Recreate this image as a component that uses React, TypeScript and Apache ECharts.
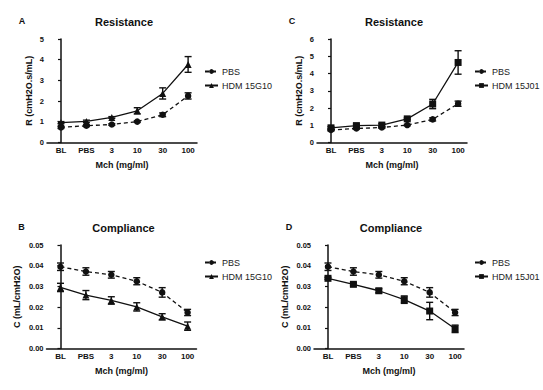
import React, { useEffect, useRef } from "react";
import * as echarts from "echarts";

const categories = ["BL", "PBS", "3", "10", "30", "100"];

const resPBS = [0.73, 0.81, 0.87, 1.01, 1.34, 2.25];
const resPBSErr = [0.05, 0.04, 0.04, 0.04, 0.09, 0.15];
const resHDM15G10 = [0.96, 1.02, 1.21, 1.53, 2.37, 3.77];
const resHDM15G10Err = [0.05, 0.06, 0.04, 0.15, 0.27, 0.38];
const resHDM15J01 = [0.85, 0.98, 1.01, 1.37, 2.23, 4.64];
const resHDM15J01Err = [0.07, 0.08, 0.08, 0.05, 0.27, 0.68];

const compPBS = [0.0395, 0.0372, 0.0356, 0.0325, 0.0271, 0.0174];
const compPBSErr = [0.0018, 0.0018, 0.0016, 0.0017, 0.0023, 0.0015];
const compHDM15G10 = [0.0295, 0.0258, 0.0232, 0.0201, 0.0153, 0.0108];
const compHDM15G10Err = [0.002, 0.0022, 0.0018, 0.002, 0.0015, 0.002];
const compHDM15J01 = [0.0339, 0.031, 0.0279, 0.0236, 0.0181, 0.0095];
const compHDM15J01Err = [0.0005, 0.0007, 0.001, 0.0018, 0.0042, 0.0018];

const FONT = "'Liberation Sans', Arial, sans-serif";
const BLACK = "#111";

type Panel = {
  letter: string;
  title: string;
  left: number;
  top: number;
  yMax: number;
  yInterval: number;
  yName: string;
  yNameGap: number;
  decimals: number;
  hdmName: string;
  hdmSymbol: string;
  hdmSymbolSize: number;
  pbs: number[];
  pbsErr: number[];
  hdm: number[];
  hdmErr: number[];
  legendLeft: number;
  legendTop: number;
};

const panels: Panel[] = [
  {
    letter: "A", title: "Resistance", left: 47, top: 39, yMax: 5, yInterval: 1,
    yName: "R (cmH2O.s/mL)", yNameGap: 14, decimals: 0,
    hdmName: "HDM 15G10", hdmSymbol: "triangle", hdmSymbolSize: 7,
    pbs: resPBS, pbsErr: resPBSErr, hdm: resHDM15G10, hdmErr: resHDM15G10Err,
    legendLeft: 204, legendTop: 67,
  },
  {
    letter: "C", title: "Resistance", left: 317, top: 39, yMax: 6, yInterval: 1,
    yName: "R (cmH2O.s/mL)", yNameGap: 14, decimals: 0,
    hdmName: "HDM 15J01", hdmSymbol: "rect", hdmSymbolSize: 7,
    pbs: resPBS, pbsErr: resPBSErr, hdm: resHDM15J01, hdmErr: resHDM15J01Err,
    legendLeft: 474, legendTop: 67,
  },
  {
    letter: "B", title: "Compliance", left: 46.5, top: 245, yMax: 0.05, yInterval: 0.01,
    yName: "C (mL/cmH2O)", yNameGap: 25, decimals: 2,
    hdmName: "HDM 15G10", hdmSymbol: "triangle", hdmSymbolSize: 7,
    pbs: compPBS, pbsErr: compPBSErr, hdm: compHDM15G10, hdmErr: compHDM15G10Err,
    legendLeft: 204, legendTop: 258,
  },
  {
    letter: "D", title: "Compliance", left: 314, top: 245, yMax: 0.05, yInterval: 0.01,
    yName: "C (mL/cmH2O)", yNameGap: 25, decimals: 2,
    hdmName: "HDM 15J01", hdmSymbol: "rect", hdmSymbolSize: 7,
    pbs: compPBS, pbsErr: compPBSErr, hdm: compHDM15J01, hdmErr: compHDM15J01Err,
    legendLeft: 474, legendTop: 258,
  },
];

function errorRender(params: any, api: any) {
  const x = api.value(0);
  const v = api.value(1);
  const e = api.value(2);
  const top = api.coord([x, v + e]);
  const bot = api.coord([x, v - e]);
  const w = 3.5;
  const style = { stroke: BLACK, lineWidth: 1.4 };
  return {
    type: "group",
    children: [
      { type: "line", shape: { x1: top[0], y1: top[1], x2: bot[0], y2: bot[1] }, style },
      { type: "line", shape: { x1: top[0] - w, y1: top[1], x2: top[0] + w, y2: top[1] }, style },
      { type: "line", shape: { x1: bot[0] - w, y1: bot[1], x2: bot[0] + w, y2: bot[1] }, style },
    ],
  };
}

export default function App() {
  const ref = useRef<HTMLDivElement>(null);
  useEffect(() => {
    if (!ref.current) return;
    const chart = echarts.init(ref.current, null, { renderer: "svg" });

    const grids: any[] = [];
    const xAxes: any[] = [];
    const yAxes: any[] = [];
    const series: any[] = [];
    const legends: any[] = [];
    const graphics: any[] = [];

    panels.forEach((p, i) => {
      grids.push({ left: p.left, top: p.top, width: 150, height: 103.5, containLabel: false });
      xAxes.push({
        type: "value",
        gridIndex: i,
        min: -0.55,
        max: 5.35,
        name: "Mch (mg/ml)",
        nameLocation: "middle",
        nameGap: 18,
        nameTextStyle: { fontFamily: FONT, fontSize: 9, fontWeight: "bold", color: BLACK },
        splitLine: { show: false },
        axisLine: { show: true, lineStyle: { color: BLACK, width: 1.5 } },
        axisTick: { show: false, customValues: [0, 1, 2, 3, 4, 5] },
        axisLabel: {
          customValues: [0, 1, 2, 3, 4, 5],
          formatter: (v: number) => categories[Math.round(v)] ?? "",
          fontFamily: FONT, fontSize: 8, fontWeight: "bold", color: BLACK, margin: 4,
        },
      });
      yAxes.push({
        type: "value",
        gridIndex: i,
        min: 0,
        max: p.yMax,
        interval: p.yInterval,
        name: p.yName,
        nameLocation: "middle",
        nameGap: p.yNameGap,
        nameTextStyle: { fontFamily: FONT, fontSize: 9, fontWeight: "bold", color: BLACK },
        splitLine: { show: false },
        axisLine: { show: true, lineStyle: { color: BLACK, width: 1.5 } },
        axisTick: { show: true, length: 3, lineStyle: { color: BLACK, width: 1.2 } },
        axisLabel: {
          formatter: (v: number) => v.toFixed(p.decimals),
          fontFamily: FONT, fontSize: 7.5, fontWeight: "bold", color: BLACK, margin: 3,
        },
      });
      series.push({
        type: "line",
        name: "PBS",
        xAxisIndex: i,
        yAxisIndex: i,
        data: p.pbs.map((v, k) => [k, v]),
        symbol: "circle",
        symbolSize: 6.5,
        itemStyle: { color: BLACK },
        lineStyle: { color: BLACK, width: 1.3, type: [4, 3] },
        z: 3,
      });
      series.push({
        type: "line",
        name: p.hdmName,
        xAxisIndex: i,
        yAxisIndex: i,
        data: p.hdm.map((v, k) => [k, v]),
        symbol: p.hdmSymbol,
        symbolSize: p.hdmSymbolSize,
        itemStyle: { color: BLACK },
        lineStyle: { color: BLACK, width: 1.3, type: "solid" },
        z: 3,
      });
      series.push({
        type: "custom",
        xAxisIndex: i,
        yAxisIndex: i,
        data: p.pbs.map((v, k) => [k, v, p.pbsErr[k]]),
        encode: { x: 0, y: 1 },
        renderItem: errorRender,
        z: 4,
        silent: true,
      });
      series.push({
        type: "custom",
        xAxisIndex: i,
        yAxisIndex: i,
        data: p.hdm.map((v, k) => [k, v, p.hdmErr[k]]),
        encode: { x: 0, y: 1 },
        renderItem: errorRender,
        z: 4,
        silent: true,
      });
      legends.push({
        data: ["PBS", p.hdmName],
        orient: "vertical",
        left: p.legendLeft,
        top: p.legendTop,
        padding: 0,
        itemWidth: 13,
        itemHeight: 6,
        itemGap: 5,
        selectedMode: false,
        textStyle: { fontFamily: FONT, fontSize: 9, color: "#222", padding: [0, 0, 0, -1] },
      });
      const cx = p.left + 77;
      const ty = p.top - 17;
      graphics.push({
        type: "text",
        x: cx,
        y: ty,
        style: {
          text: p.title, fill: BLACK, font: `bold 11px ${FONT}`,
          textAlign: "center", textVerticalAlign: "middle",
        },
      });
      graphics.push({
        type: "text",
        x: p.left - 25,
        y: ty - 1,
        style: {
          text: p.letter, fill: BLACK, font: `bold 9px ${FONT}`,
          textAlign: "center", textVerticalAlign: "middle",
        },
      });
    });

    chart.setOption({
      animation: false,
      backgroundColor: "#fff",
      grid: grids,
      xAxis: xAxes,
      yAxis: yAxes,
      series,
      legend: legends,
      graphic: graphics,
    });
    return () => chart.dispose();
  }, []);

  return (
    <div
      ref={ref}
      style={{ position: "fixed", left: 0, top: 0, width: 543, height: 390, background: "#fff" }}
    />
  );
}
